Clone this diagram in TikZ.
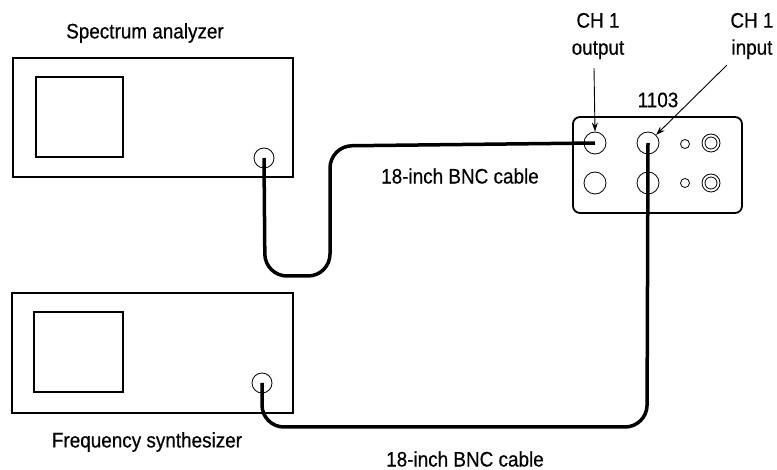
\documentclass[tikz,border=0pt]{standalone}
\usepackage{fontspec}
\setmainfont{Liberation Sans}[FakeStretch=0.9,FakeBold=0.5]
\usetikzlibrary{arrows.meta}
\begin{document}
\begin{tikzpicture}[x=1pt,y=-1pt,
  box/.style={draw,line width=1.8pt},
  scr/.style={draw,line width=1.6pt},
  conn/.style={draw,line width=0.8pt},
  cable/.style={line width=3.5pt,rounded corners=22pt},
  lbl/.style={font=\fontsize{21}{27}\selectfont,inner sep=0pt},
  ptr/.style={line width=0.9pt,-{Stealth[length=9pt,width=6pt]}}]
\useasboundingbox (0,0) rectangle (777,470);
% spectrum analyzer
\node[box,minimum width=280pt,minimum height=119pt,inner sep=0pt] (sa) at (153,117.5) {};
\node[scr,minimum width=87pt,minimum height=80pt,inner sep=0pt] (sascr) at (79.5,117) {};
\node[conn,circle,minimum size=20pt,inner sep=0pt] (saout) at (264,158) {};
\node[lbl] (salbl) at (145,33) {Spectrum analyzer};
% frequency synthesizer
\node[box,minimum width=281pt,minimum height=120pt,inner sep=0pt] (fs) at (152.5,353) {};
\node[scr,minimum width=89pt,minimum height=80pt,inner sep=0pt] (fsscr) at (78.5,352) {};
\node[conn,circle,minimum size=20pt,inner sep=0pt] (fsout) at (262,383) {};
\node[lbl] (fslbl) at (147,442) {Frequency synthesizer};
% 1103
\node[box,rounded corners=7pt,minimum width=169pt,minimum height=96pt,inner sep=0pt] (dev) at (657.5,165) {};
\node[conn,circle,minimum size=22pt,inner sep=0pt] (ch1out) at (595,143) {};
\node[conn,circle,minimum size=22pt,inner sep=0pt] (ch1in) at (648,143) {};
\node[conn,circle,minimum size=22pt,inner sep=0pt] (ch2out) at (595,183) {};
\node[conn,circle,minimum size=22pt,inner sep=0pt] (ch2in) at (648,183) {};
\node[conn,circle,minimum size=9pt,inner sep=0pt] (s1) at (685,144) {};
\node[conn,circle,minimum size=9pt,inner sep=0pt] (s2) at (685,183) {};
\node[conn,circle,minimum size=18pt,inner sep=0pt] (d1) at (711,143) {};
\node[conn,circle,minimum size=12pt,inner sep=0pt] (d1i) at (711,143) {};
\node[conn,circle,minimum size=18pt,inner sep=0pt] (d2) at (711,183) {};
\node[conn,circle,minimum size=12pt,inner sep=0pt] (d2i) at (711,183) {};
\node[lbl] (devlbl) at (658,100) {1103};
\node[lbl,align=center] (outlbl) at (598,36) {CH 1\\output};
\node[lbl,align=center] (inlbl) at (752,36) {CH 1\\input};
\draw[ptr] (594,68) -- (ch1out.north);
\draw[ptr] (727,65) -- (ch1in.north east);
% cables
\node[lbl] (c1lbl) at (460,176) {18-inch BNC cable};
\node[lbl] (c2lbl) at (465,459) {18-inch BNC cable};
\draw[cable] (saout.center) -- (265,276) -- (330,276) -- (330,146) -- (ch1out.center);
\draw[cable] (fsout.center) -- (262,427) -- (647,427) -- (ch1in.center);
\end{tikzpicture}
\end{document}
